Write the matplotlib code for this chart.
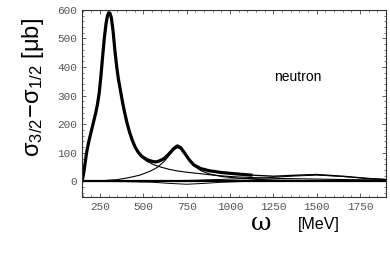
import matplotlib
matplotlib.use("Agg")
import matplotlib.pyplot as plt
from matplotlib.ticker import MultipleLocator

# photon energy (MeV) and helicity-difference cross sections (mub)
OMEGA_TOTAL = [145, 150, 155, 160, 165, 170, 175, 185, 195, 205, 215, 225, 235, 245, 255, 265,
               275, 285, 293, 300, 307, 315, 325, 335, 345, 355, 365, 377, 390, 405, 420, 435,
               452, 470, 490, 520, 550, 570, 590, 620, 650, 675, 695, 715, 740,
               765, 790, 830, 880, 950, 1020, 1120]
SIGMA_TOTAL = [0, 12, 28, 48, 70, 92, 110, 140, 165, 190, 215, 240, 270, 310, 370, 440,
               505, 555, 580, 590, 588, 572, 525, 460, 405, 360, 326, 285, 245, 205, 172, 145,
               120, 102, 88, 76, 70, 68, 71, 80, 98, 115, 124, 118, 97,
               75, 58, 45, 37, 31, 27, 22]

OMEGA_DELTA = [145, 150, 155, 160, 165, 170, 175, 185, 195, 205, 215, 225, 235, 245, 255, 265,
               275, 285, 293, 300, 307, 315, 325, 335, 345, 355, 365, 377, 390, 405, 420, 435,
               452, 470, 490, 520, 560, 600, 650, 700, 750, 812, 900, 1000,
               1100, 1300, 1500, 1700, 1900]
SIGMA_DELTA = [0, 12, 28, 48, 70, 92, 110, 140, 165, 190, 215, 240, 270, 310, 370, 440,
               505, 555, 580, 590, 588, 572, 525, 460, 405, 360, 326, 285, 245, 205, 172, 145,
               118, 98, 84, 70, 58, 50, 42, 36, 32, 28, 22, 17,
               14, 10, 8, 6, 5]

OMEGA_D13 = [145, 250, 350, 423, 480, 540, 580, 620, 650, 675, 696, 715, 740, 765, 790, 830,
             880, 950, 1050, 1150, 1300, 1500, 1900]
SIGMA_D13 = [0, 2, 6, 14, 22, 36, 49, 70, 92, 110, 118, 113, 93, 72, 55, 38,
             26, 17, 11, 7, 4, 2, 1]

OMEGA_TAIL = [1120, 1250, 1400, 1500, 1650, 1800, 1900]
SIGMA_TAIL = [22, 18, 22, 24, 18, 10, 6]

OMEGA_S11 = [145, 400, 550, 650, 750, 850, 950, 1100, 1300, 1500, 1900]
SIGMA_S11 = [0, -1, -3, -7, -10, -7, -3, 0, 2, 1, 0]

OMEGA_F15 = [145, 500, 800, 1000, 1200, 1350, 1500, 1650, 1800, 1900]
SIGMA_F15 = [0, 1, 4, 8, 12, 18, 22, 17, 10, 7]

OMEGA_ZERO = [145, 1900]
SIGMA_ZERO = [0, 0]

TICK_FONT = {"family": "Liberation Mono", "size": 8, "color": "#555555"}

fig = plt.figure(figsize=(3.9, 2.73), dpi=100)
ax = fig.add_axes([0.21, 0.278, 0.78, 0.686])

ax.plot(OMEGA_ZERO, SIGMA_ZERO, color="black", lw=1.6)
ax.plot(OMEGA_S11, SIGMA_S11, color="black", lw=0.7)
ax.plot(OMEGA_F15, SIGMA_F15, color="black", lw=0.7)
ax.plot(OMEGA_TAIL, SIGMA_TAIL, color="black", lw=1.0)
ax.plot(OMEGA_DELTA, SIGMA_DELTA, color="black", lw=0.8)
ax.plot(OMEGA_D13, SIGMA_D13, color="black", lw=0.8)
ax.plot(OMEGA_TOTAL, SIGMA_TOTAL, color="black", lw=2.3, solid_joinstyle="round")

ax.set_xlim(145, 1900)
ax.set_ylim(-55, 600)
ax.xaxis.set_major_locator(MultipleLocator(250))
ax.xaxis.set_minor_locator(MultipleLocator(50))
ax.yaxis.set_major_locator(MultipleLocator(100))
ax.yaxis.set_minor_locator(MultipleLocator(20))
ax.tick_params(which="both", direction="in", top=True, right=True, color="#444444")
ax.tick_params(which="major", length=3, width=0.6)
ax.tick_params(which="minor", length=1.5, width=0.5)
for lab in ax.get_xticklabels() + ax.get_yticklabels():
    lab.set_fontfamily(TICK_FONT["family"])
    lab.set_fontsize(TICK_FONT["size"])
    lab.set_color(TICK_FONT["color"])
for sp in ax.spines.values():
    sp.set_linewidth(0.8)
    sp.set_color("#333333")

ax.text(1391, 365, "neutron", family="Liberation Sans", fontsize=10, ha="center", va="center")

fig.text(0.085, 0.68, r"$\mathregular{\sigma_{3/2}\!-\!\sigma_{1/2}}$ [μb]", rotation=90,
         ha="center", va="center", fontsize=17, family="Liberation Sans")
fig.text(0.67, 0.18, "ω", ha="center", va="center", fontsize=18, family="DejaVu Serif")
fig.text(0.818, 0.176, "[MeV]", ha="center", va="center", fontsize=11.5, family="Liberation Sans")

fig.savefig("out.png", dpi=100)
